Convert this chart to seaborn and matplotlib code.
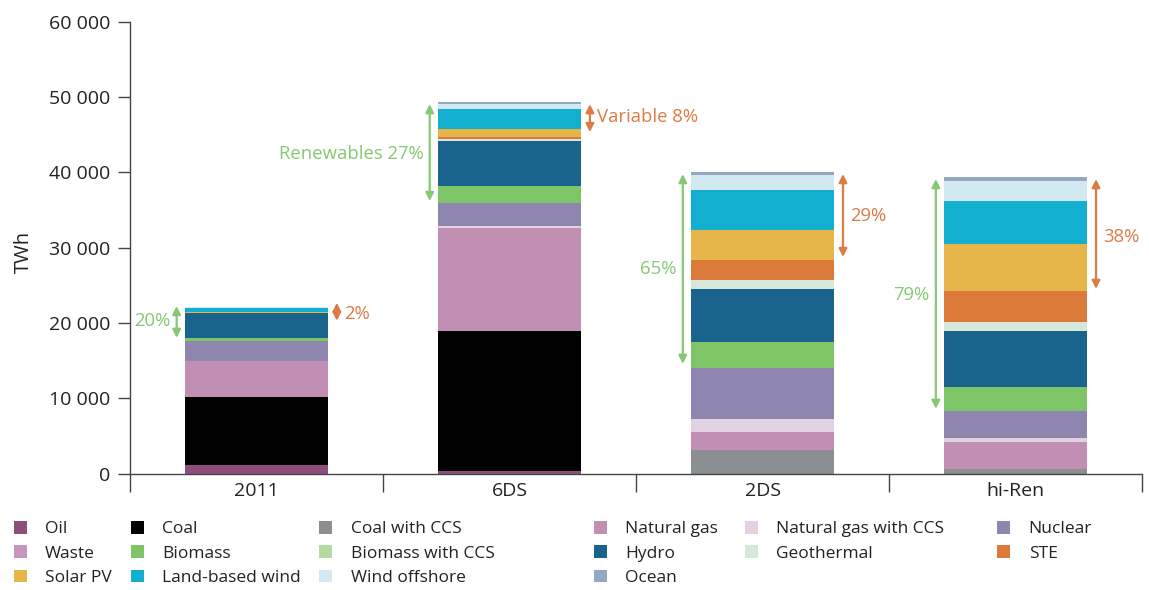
import numpy as np
import matplotlib
matplotlib.use("Agg")
import matplotlib.pyplot as plt
import seaborn as sns
from matplotlib.patches import Patch
from matplotlib.ticker import FixedLocator

# scenarios and generation by technology (TWh), bottom to top
scenarios = ["2011", "6DS", "2DS", "hi-Ren"]
techs = ["Oil", "Coal", "Coal with CCS", "Natural gas", "Natural gas with CCS",
         "Nuclear", "Waste", "Biomass", "Biomass with CCS", "Hydro",
         "Geothermal", "STE", "Solar PV", "Land-based wind", "Wind offshore", "Ocean"]
oil = [1200, 400, 0, 0]
coal = [9000, 18560, 0, 0]
coal_ccs = [0, 0, 3090, 660]
natural_gas = [4800, 13640, 2520, 3540]
gas_ccs = [0, 300, 1680, 530]
nuclear = [2640, 3040, 6730, 3580]
waste = [0, 0, 0, 0]
biomass = [400, 2260, 3450, 3270]
biomass_ccs = [0, 0, 0, 0]
hydro = [3310, 5960, 7070, 7350]
geothermal = [60, 270, 1240, 1190]
ste = [0, 310, 2650, 4200]
solar_pv = [60, 1020, 3930, 6180]
land_wind = [570, 2640, 5310, 5750]
offshore = [150, 670, 1990, 2650]
ocean = [0, 230, 350, 450]

colors = ["#8e4d7d", "#000000", "#8c8f91", "#c08fb3", "#e1d2e2",
          "#8f86b0", "#c596c0", "#7dc566", "#b3dba1", "#1a638c",
          "#d6e9d9", "#dc7a3c", "#e5b54a", "#12afd0", "#d3e9f2", "#95a8c3"]

# share annotations: (label, low, high) in TWh
renew_labels = ["20%", "Renewables 27%", "65%", "79%"]
renew_span = [(18040, 22280), (36210, 49070), (14590, 39790), (8620, 39120)]
renew_text_y = [20290, 42440, 27190, 23740]
var_labels = ["2%", "Variable 8%", "29%", "38%"]
var_span = [(20300, 22700), (45360, 49070), (28780, 39790), (24540, 39120)]
var_text_y = [21220, 47350, 34220, 31430]

yticks = [0, 10000, 20000, 30000, 40000, 50000, 60000]
ytick_labels = ["0", "10 000", "20 000", "30 000", "40 000", "50 000", "60 000"]

series = [oil, coal, coal_ccs, natural_gas, gas_ccs, nuclear, waste, biomass,
          biomass_ccs, hydro, geothermal, ste, solar_pv, land_wind, offshore, ocean]

sns.set_style("ticks")
plt.rcParams["font.family"] = ["Open Sans", "DejaVu Sans"]
green = "#86c873"
orange = "#dd7b45"
txt = "#222222"

fig = plt.figure(figsize=(11.49, 5.90), dpi=100)
ax = fig.add_axes([0.113, 0.197, 0.881, 0.766])

bottom = np.zeros(len(scenarios))
for vals, c in zip(series, colors):
    sns.barplot(x=scenarios, y=vals, bottom=bottom, color=c, saturation=1,
                width=0.563, linewidth=0, ax=ax)
    bottom = bottom + np.array(vals)

ax.set_xlim(-0.5, 3.5)
ax.set_ylim(0, 60000)
ax.set_yticks(yticks)
ax.set_yticklabels(ytick_labels, fontsize=14, color=txt)
ax.set_ylabel("TWh", fontsize=14.5, color=txt)
ax.yaxis.set_label_coords(-0.095, 0.49)
ax.tick_params(axis="y", direction="out", length=9, width=1, color="#444444", pad=5)
ax.tick_params(axis="x", which="major", length=0, labelsize=14, labelcolor=txt, pad=6)
ax.xaxis.set_minor_locator(FixedLocator([-0.5, 0.5, 1.5, 2.5, 3.5]))
ax.tick_params(axis="x", which="minor", direction="out", length=13, width=1, color="#444444")
for s in ["top", "right"]:
    ax.spines[s].set_visible(False)
for s in ["left", "bottom"]:
    ax.spines[s].set_color("#444444")
    ax.spines[s].set_linewidth(1)
ax.set_xlabel("")

arrow_kw = dict(arrowstyle="<|-|>", mutation_scale=12, lw=1.6, shrinkA=0, shrinkB=0)
for i in range(len(scenarios)):
    gx = i - 0.315
    ox = i + 0.318
    lo, hi = renew_span[i]
    ax.annotate("", xy=(gx, hi), xytext=(gx, lo),
                arrowprops=dict(color=green, **arrow_kw))
    ax.text(gx - 0.025, renew_text_y[i], renew_labels[i], ha="right", va="center",
            fontsize=13.3, color=green)
    lo, hi = var_span[i]
    ax.annotate("", xy=(ox, hi), xytext=(ox, lo),
                arrowprops=dict(color=orange, **arrow_kw))
    ax.text(ox + 0.028, var_text_y[i], var_labels[i], ha="left", va="center",
            fontsize=13.3, color=orange)

# legend laid out in six columns, filled row by row like the original
handles = [Patch(facecolor=c, edgecolor="none", label=t) for t, c in zip(techs, colors)]
col_x = [0.012, 0.114, 0.278, 0.517, 0.648, 0.868]
for k, x0 in enumerate(col_x):
    hs = handles[k::6]
    fig.legend(handles=hs, loc="upper left", bbox_to_anchor=(x0, 0.117),
               frameon=False, fontsize=12.5, handlelength=0.75, handleheight=0.75,
               handletextpad=1.05, labelspacing=0.46, borderaxespad=0, borderpad=0,
               labelcolor=txt)

fig.savefig("out.png", dpi=100)
